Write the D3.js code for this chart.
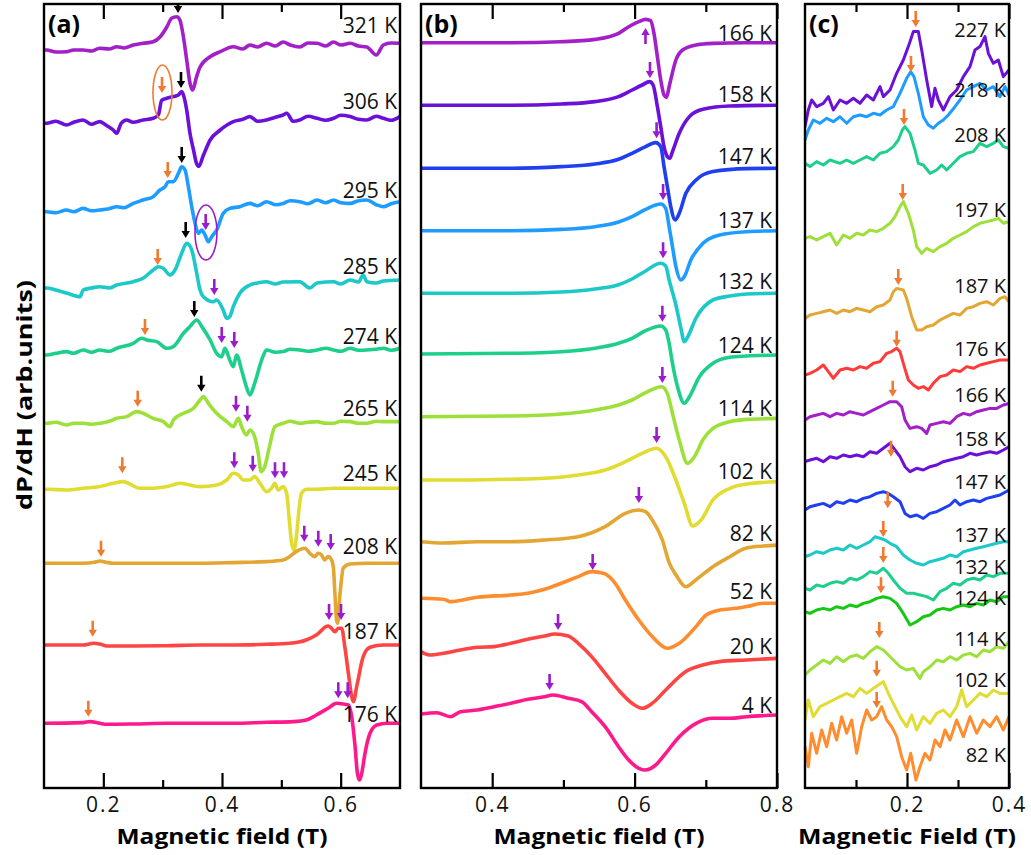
<!DOCTYPE html>
<html><head><meta charset="utf-8">
<script src="https://cdn.jsdelivr.net/npm/d3@7"></script>
<style>body{margin:0;background:#fff}</style></head>
<body><svg id="c" width="1031" height="855"></svg>
<script>
// ---------------- DATA (field in T, signal in arb. units relative to each trace baseline) ----------------
const aTemps = ["321 K","306 K","295 K","285 K","274 K","265 K","245 K","208 K","187 K","176 K"];
const aOffsets = [738,664.7,576.3,500,434.7,364.7,298.7,224.7,143,64.7];
const aLabelY = [763,686.3,598,521.3,451.3,379.7,314.7,241.3,156.3,74];
const aMajor = [0.2,0.4,0.6], aMinor = [0.3,0.5], aTickLabels = ["0.2","0.4","0.6"];

const a321 = [[0.100,0],[0.1045,0],[0.12,-2],[0.138,-1.7],[0.15,0],[0.166,0],[0.18,-1],[0.194,1.7],[0.21,1],[0.2225,3.3],[0.235,2],[0.2505,5],[0.267,6.7],[0.284,8.3],[0.2955,13],[0.307,23],[0.315,31.7],[0.3237,33.3],[0.329,30],[0.335,13],[0.3405,-10],[0.346,-33],[0.3506,-40],[0.357,-27],[0.363,-17],[0.38,-6.7],[0.397,-1.7],[0.419,3.3],[0.435,1],[0.447,5],[0.46,3],[0.475,6.7],[0.49,4],[0.503,8],[0.515,5],[0.531,3],[0.545,7],[0.56,6.7],[0.575,4],[0.588,8],[0.60,5],[0.616,6.7],[0.63,4],[0.644,3],[0.66,-5],[0.672,5],[0.685,7],[0.70,6.7]];
const a306 = [[0.100,0],[0.1045,0],[0.12,2],[0.138,-1.7],[0.15,1],[0.166,3.3],[0.18,-1],[0.194,1.7],[0.205,-2],[0.2168,-6.7],[0.2225,-10],[0.23,0],[0.2393,3.3],[0.25,1],[0.267,3.3],[0.284,5],[0.2927,8.3],[0.2983,23],[0.307,25],[0.318,26.7],[0.3265,28.3],[0.332,31.7],[0.335,28.3],[0.3405,13.3],[0.346,-10],[0.352,-26.7],[0.357,-40],[0.361,-43],[0.368,-33],[0.38,-16.7],[0.397,-6.7],[0.419,1.7],[0.435,4],[0.447,6.7],[0.46,2],[0.475,3.3],[0.49,6],[0.503,8.3],[0.509,10],[0.52,2],[0.531,3.3],[0.545,7],[0.56,5],[0.575,3],[0.588,5],[0.60,8],[0.616,6.7],[0.63,4],[0.644,3.3],[0.66,7],[0.672,5],[0.685,3],[0.70,6.7]];
const a295 = [[0.100,0],[0.1045,0],[0.12,-1],[0.138,1.7],[0.15,0],[0.166,3.3],[0.18,1],[0.194,1.7],[0.21,3],[0.2225,5],[0.235,4],[0.2505,8.3],[0.267,11.7],[0.284,15],[0.2955,21.7],[0.304,25],[0.3095,30],[0.318,30],[0.3265,38.3],[0.332,45],[0.3377,41.7],[0.3433,25],[0.349,5],[0.3546,-11.7],[0.3602,-21.7],[0.366,-18.3],[0.3714,-23.3],[0.377,-30],[0.3826,-25],[0.391,-18.3],[0.402,-1.7],[0.413,3.3],[0.43,5],[0.447,8.3],[0.46,6],[0.475,10],[0.49,7],[0.503,8.3],[0.515,11],[0.531,10],[0.545,8],[0.56,11.7],[0.575,9],[0.588,11.7],[0.60,9],[0.616,8.3],[0.63,11],[0.644,11.7],[0.66,7],[0.672,5],[0.685,8],[0.70,10]];
const a285 = [[0.100,0],[0.1045,0],[0.12,-2],[0.138,-5],[0.1607,-8.7],[0.166,-2],[0.18,0],[0.194,1.3],[0.21,0],[0.2225,3],[0.2505,6.3],[0.267,9.7],[0.284,18],[0.2927,21.3],[0.301,19.7],[0.3124,13],[0.3208,18],[0.332,34.7],[0.3405,44.7],[0.349,38],[0.3574,14.7],[0.363,-2],[0.3686,-8.7],[0.3855,-13.7],[0.391,-12],[0.402,-22],[0.408,-30.3],[0.413,-28.7],[0.419,-18.7],[0.43,-5.3],[0.447,3],[0.46,5],[0.475,6.3],[0.49,4],[0.503,6],[0.531,6.3],[0.548,0],[0.56,5],[0.588,6.3],[0.60,4],[0.616,8],[0.63,6],[0.638,13],[0.644,6.3],[0.66,5],[0.672,7],[0.70,8]];
const a274 = [[0.100,-1.7],[0.1045,-1.7],[0.12,0],[0.138,1.7],[0.15,0],[0.166,3.3],[0.18,1],[0.194,3.3],[0.21,2],[0.2225,5],[0.2505,10],[0.2646,15],[0.273,13.3],[0.29,11.7],[0.307,5],[0.318,6.7],[0.335,20],[0.346,26.7],[0.3574,33.3],[0.366,26.7],[0.38,13.3],[0.391,0],[0.3995,-3.3],[0.405,5],[0.413,-6.7],[0.419,-13.3],[0.4245,-1.7],[0.433,-16.7],[0.441,-33.3],[0.447,-41.7],[0.455,-30],[0.469,-3.3],[0.475,3.3],[0.49,1],[0.503,1.7],[0.515,4],[0.531,3.3],[0.545,2],[0.56,3.3],[0.575,5],[0.588,3.3],[0.60,2],[0.616,5],[0.63,3],[0.644,3.3],[0.66,4],[0.672,5],[0.685,3],[0.70,5]];
const a265 = [[0.100,0],[0.1045,0],[0.12,1],[0.138,-1.7],[0.15,0],[0.166,0],[0.18,-1],[0.194,0],[0.21,2],[0.2225,5],[0.2393,6.7],[0.2562,11.7],[0.267,10],[0.284,5],[0.301,1.7],[0.3124,-3.3],[0.318,3.3],[0.335,10],[0.352,15],[0.363,23.3],[0.3686,26.7],[0.377,20],[0.391,10],[0.408,1.7],[0.419,-3.3],[0.4276,5],[0.433,-3.3],[0.441,-11.7],[0.447,-6.7],[0.455,-13.3],[0.461,-30],[0.466,-48.3],[0.472,-43.3],[0.48,-23.3],[0.489,-3.3],[0.503,0],[0.515,2],[0.531,0],[0.545,1],[0.56,1.7],[0.575,0],[0.588,0],[0.60,2],[0.616,1.7],[0.63,0],[0.644,0],[0.66,2],[0.672,1.7],[0.70,1.7]];
const a245 = [[0.100,0],[0.1045,0],[0.138,-0.7],[0.166,1],[0.194,2.7],[0.2168,6],[0.2337,7.7],[0.242,6],[0.2618,1],[0.284,1],[0.307,2.7],[0.329,6],[0.346,4.3],[0.363,2.7],[0.391,4.3],[0.408,9.3],[0.419,16],[0.4277,14.3],[0.436,9.3],[0.447,9.3],[0.455,12.7],[0.464,6],[0.475,-2.3],[0.4835,1],[0.489,6],[0.4948,-0.7],[0.503,2.7],[0.509,-4],[0.5134,-30.7],[0.5174,-54],[0.5214,-60.7],[0.526,-44],[0.5303,-17.3],[0.534,-4],[0.5428,0],[0.56,0],[0.588,1],[0.616,1],[0.644,1],[0.672,1],[0.70,1]];
const a208 = [[0.100,0],[0.1045,0],[0.166,0],[0.185,1],[0.194,2.3],[0.205,1],[0.2168,0],[0.2505,0],[0.307,0],[0.363,0],[0.419,0.7],[0.475,1.7],[0.503,3.3],[0.514,6.7],[0.525,11.7],[0.5399,15],[0.548,10],[0.5564,6.7],[0.562,10],[0.5677,8.3],[0.573,3.3],[0.579,6.7],[0.5846,3.3],[0.5876,-3.3],[0.5903,-30],[0.593,-56.7],[0.5948,-60],[0.599,-30],[0.6045,-4.7],[0.6158,-0.7],[0.644,0],[0.70,0]];
const a187 = [[0.100,0],[0.1045,0],[0.166,0],[0.1831,1.7],[0.194,1],[0.2057,-1],[0.2505,-1],[0.307,-0.7],[0.363,0],[0.419,0],[0.475,0.7],[0.514,1.7],[0.542,5],[0.559,10],[0.5787,19],[0.5846,16.7],[0.5903,13.3],[0.596,16.7],[0.6016,16.7],[0.607,-1.7],[0.613,-28.3],[0.6186,-51.7],[0.6214,-56.7],[0.627,-41.7],[0.638,-11.7],[0.6495,-2.3],[0.672,0],[0.70,0]];
const a176 = [[0.100,0],[0.1045,0],[0.166,0.7],[0.1775,1.7],[0.194,0],[0.2057,-1],[0.2505,-0.7],[0.307,0],[0.363,0],[0.419,0],[0.475,1],[0.5202,1.7],[0.542,3.3],[0.559,8.3],[0.5787,15],[0.5931,20],[0.6045,19.3],[0.613,18.3],[0.6186,6.7],[0.6243,-23.3],[0.6282,-50],[0.6316,-56.7],[0.6355,-50],[0.641,-30],[0.6495,-10],[0.661,-1.7],[0.678,0],[0.70,0]];
const aCurves = [a321,a306,a295,a285,a274,a265,a245,a208,a187,a176];
// arrows: [field, tip level, kind, direction(1 down,-1 up)]
const aArrows = [[0.3259,775,"k",1],[0.2989,695,"o",1],[0.3309,700,"k",1],[0.3085,610,"o",1],[0.3321,625,"k",1],[0.3725,558,"p",1],
 [0.2916,523,"o",1],[0.3388,550,"k",1],[0.387,493,"p",1],[0.2702,453,"o",1],[0.3533,471,"k",1],[0.3995,445,"p",1],[0.4207,440,"p",1],
 [0.2579,381.3,"o",1],[0.3651,396.3,"k",1],[0.4236,376.3,"p",1],[0.4427,366.3,"p",1],[0.232,314.7,"o",1],[0.4207,319.7,"p",1],[0.4518,316.3,"p",1],[0.4893,309.7,"p",1],[0.5045,309.7,"p",1],
 [0.1961,231.3,"o",1],[0.5387,246.3,"p",1],[0.5623,241.3,"p",1],[0.5832,238,"p",1],[0.1821,151.3,"o",1],[0.5804,168,"p",1],[0.6006,168,"p",1],
 [0.1747,71.3,"o",1],[0.596,89.7,"p",1],[0.6119,89.7,"p",1]];
// ellipses: [field centre, level centre, half-width (T), half-height, kind]
const aEllipses = [[0.2997,695.5,0.016,27.5,"o"],[0.373,555.5,0.0185,27.5,"p"]];

const bTemps = ["166 K","158 K","147 K","137 K","132 K","124 K","114 K","102 K","82 K","52 K","20 K","4 K"];
const bOffsets = [745.3,682.7,619.7,557.3,494.7,434,371.3,308,246.3,189.7,134.7,74];
const bLabelY = [754.7,693.7,631.3,568,506.3,443,379.7,316.3,254.7,196.3,142,83];
const bMajor = [0.4,0.6,0.8], bMinor = [0.5,0.7], bTickLabels = ["0.4","0.6","0.8"];
const b166 = [[0.3,0],[0.4262,0],[0.497,1],[0.5444,3.3],[0.5775,9.3],[0.5917,16],[0.606,21],[0.6154,23.3],[0.6225,22],[0.6272,9.3],[0.632,-14],[0.6367,-37.3],[0.6413,-52.3],[0.6447,-54.7],[0.6485,-44],[0.658,-17.3],[0.6674,-7.3],[0.6863,-2.3],[0.71,-0.7],[0.7572,0],[0.802,0]];
const b158 = [[0.3,0],[0.4262,0],[0.497,1.3],[0.5444,3.7],[0.5775,8.7],[0.5964,15.3],[0.6107,20.3],[0.621,23.7],[0.626,20.3],[0.632,-1.3],[0.6367,-21.3],[0.6413,-41.3],[0.646,-51.3],[0.6495,-53],[0.6532,-46.3],[0.6627,-28],[0.677,-11.3],[0.6958,-4],[0.7336,-0.7],[0.802,0]];
const b147 = [[0.3,0],[0.4262,0],[0.497,1.7],[0.5444,4.3],[0.5775,9],[0.5964,15],[0.6154,21.7],[0.6296,25.7],[0.6367,21.7],[0.6413,1.7],[0.646,-18.3],[0.6508,-38.3],[0.657,-51.7],[0.6627,-45],[0.672,-25],[0.6863,-11.7],[0.71,-3.3],[0.7572,-0.3],[0.802,0]];
const b137 = [[0.3,0],[0.4262,0],[0.497,1.3],[0.5444,4],[0.5775,8.7],[0.5964,14],[0.6154,21.3],[0.6367,26.7],[0.6437,22.3],[0.6485,4],[0.6532,-16],[0.658,-36],[0.665,-49.3],[0.6698,-46],[0.679,-29.3],[0.6958,-12.7],[0.7194,-4.3],[0.7572,-1],[0.802,0]];
const b132 = [[0.3,0],[0.4262,0],[0.497,1.3],[0.5444,4.3],[0.5775,8.6],[0.5964,14.3],[0.6154,22.3],[0.6367,30],[0.6437,27.3],[0.6485,13.3],[0.658,-11.7],[0.665,-34.7],[0.6698,-48.4],[0.6745,-43.7],[0.6863,-24.7],[0.71,-6.7],[0.7336,-2.7],[0.7572,-0.7],[0.802,0]];
const b124 = [[0.3,0],[0.4262,0.7],[0.497,2.3],[0.5444,5.7],[0.5775,10.7],[0.5964,15.7],[0.6154,23.3],[0.6367,28],[0.6437,24],[0.6485,10.7],[0.6532,-9.3],[0.6603,-32.7],[0.6698,-49.3],[0.677,-42.7],[0.691,-22.7],[0.71,-9.3],[0.7336,-3.3],[0.7572,-2],[0.802,-1]];
const b114 = [[0.3,0],[0.4262,0.7],[0.497,2.7],[0.5444,6.7],[0.5775,11.7],[0.5964,16.7],[0.6154,24],[0.6381,30],[0.646,23.3],[0.6532,3.3],[0.6627,-23.3],[0.6745,-46.7],[0.684,-40],[0.6958,-23.3],[0.71,-11.7],[0.7336,-5],[0.7572,-2.7],[0.802,-1.7]];
const b102 = [[0.3,0],[0.3553,0],[0.4262,0.7],[0.4735,1.7],[0.5208,5],[0.5586,10],[0.587,18.3],[0.6107,26.7],[0.6305,31.7],[0.6437,23.3],[0.658,0],[0.6698,-23.3],[0.6816,-46],[0.6934,-40],[0.71,-20],[0.7336,-8.3],[0.7572,-4],[0.802,-1.7]];
const b82 = [[0.3,0],[0.3317,-1.3],[0.379,0],[0.4262,0],[0.4735,1.7],[0.5208,5],[0.5586,15],[0.587,28.4],[0.606,31.7],[0.6154,30],[0.6248,21.7],[0.639,1.7],[0.6485,-21],[0.658,-33],[0.672,-45],[0.6863,-38],[0.71,-25],[0.7336,-15],[0.7572,-6.3],[0.781,-4.3],[0.802,-3.3]];
const b52 = [[0.3,0],[0.3317,-1],[0.3411,-3.3],[0.379,1],[0.4262,3.3],[0.45,5],[0.4735,9],[0.497,15],[0.5208,21.7],[0.5397,26.7],[0.5562,25],[0.5728,15],[0.587,-1.7],[0.6059,-21.7],[0.6248,-38.3],[0.646,-50],[0.6627,-45],[0.6863,-28.3],[0.7005,-16.7],[0.7194,-11.7],[0.743,-10],[0.7572,-8.3],[0.781,-5],[0.802,-5]];
const b20 = [[0.3,1.7],[0.3128,-1.7],[0.3317,0],[0.3553,3.3],[0.379,6],[0.4026,6.7],[0.4262,10],[0.45,14],[0.4735,17.3],[0.4877,19.3],[0.5066,17.3],[0.5208,10],[0.5397,-3.3],[0.5586,-20],[0.5775,-36.7],[0.5964,-50],[0.6107,-55],[0.6248,-50],[0.6437,-36.7],[0.672,-18.3],[0.6958,-11.7],[0.7194,-8.3],[0.7572,-6.7],[0.802,-5]];
const b4 = [[0.3,0],[0.3222,1.3],[0.3411,-2.7],[0.3553,2.3],[0.379,4],[0.4026,7.3],[0.4262,10.7],[0.45,14.7],[0.4735,17.3],[0.4853,19],[0.5066,15.7],[0.5255,12.3],[0.5397,2.3],[0.5586,-12.7],[0.5775,-32.7],[0.5917,-46],[0.606,-54.3],[0.6154,-56],[0.6296,-51],[0.6437,-39.3],[0.6627,-22.7],[0.6863,-9.3],[0.71,-4.3],[0.7336,-4.3],[0.7572,-2.7],[0.802,-1]];
const bCurves = [b166,b158,b147,b137,b132,b124,b114,b102,b82,b52,b20,b4];
const bArrows = [[0.6153,760,"p",-1],[0.6216,710,"p",1],[0.6309,649.7,"p",1],[0.64,588,"p",1],[0.64,529.7,"p",1],[0.639,466.3,"p",1],
 [0.639,405,"p",1],[0.6309,345,"p",1],[0.606,285,"p",1],[0.5411,218,"p",1],[0.4925,158,"p",1],[0.4806,98,"p",1]];

const cTemps = ["227 K","218 K","208 K","197 K","187 K","176 K","166 K","158 K","147 K","137 K","132 K","124 K","114 K","102 K","82 K"];
const cOffsets = [684.7,668,624.7,549.7,471.3,414.7,371.3,328,281.3,233,199.7,176.3,121.3,71.3,48];
const cLabelY = [758,698,653,578,502,439.7,393,349.7,306.3,253,221,190,149.7,108,33];
const cMajor = [0.2,0.4], cMinor = [0.1,0.3], cTickLabels = ["0.2","0.4"];
const c227 = [[0,-23.3],[0.0065,-6.7],[0.0131,3.3],[0.0229,-3.3],[0.0359,0],[0.0458,6.7],[0.0556,-6.7],[0.0686,3.3],[0.0817,0],[0.0948,5],[0.1078,0],[0.1209,8.3],[0.134,3.3],[0.1471,16.7],[0.1536,6.7],[0.1667,13.3],[0.1797,30],[0.1928,43.3],[0.2026,56.7],[0.2124,71.7],[0.2222,71.7],[0.2288,53.3],[0.2386,23.3],[0.2484,-3.3],[0.2549,15],[0.2614,3.3],[0.2712,-6.7],[0.2843,6.7],[0.2974,13.3],[0.3105,26.7],[0.3235,36.7],[0.3333,53.3],[0.3431,56.7],[0.3529,66.7],[0.3595,50],[0.3693,40],[0.3791,43.3],[0.3889,26.7],[0.4,33.3]];
const c218 = [[0,-20],[0.0065,-10],[0.0163,0],[0.0294,-3.3],[0.0425,1.7],[0.0556,-1.7],[0.0686,3.3],[0.0817,-3.3],[0.0948,3.3],[0.1078,5],[0.1209,3.3],[0.134,6.7],[0.1471,5],[0.1601,10],[0.1732,13.3],[0.1863,26.7],[0.1993,41.7],[0.2072,48.3],[0.2137,43.3],[0.2222,26.7],[0.232,3.3],[0.2418,-5],[0.2516,-8.3],[0.2614,-3.3],[0.2712,0],[0.281,5],[0.2941,13.3],[0.3039,20],[0.317,30],[0.3301,33.3],[0.3431,36.7],[0.3562,30],[0.3693,33.3],[0.3824,23.3],[0.3922,33.3],[0.4,25]];
const c208 = [[0,0],[0.0098,-3.3],[0.0229,1.7],[0.0359,-1.7],[0.049,3.3],[0.0686,0],[0.0817,3.3],[0.0948,0],[0.1078,3.3],[0.1209,6.7],[0.134,3.3],[0.1471,10],[0.1601,11.7],[0.1732,16.7],[0.183,23.3],[0.1908,33.3],[0.1961,36.7],[0.2059,30],[0.2157,13.3],[0.2222,0],[0.232,-1.7],[0.2451,-10],[0.2582,-6.7],[0.268,-1.7],[0.2778,-6.7],[0.2908,0],[0.3039,6.7],[0.317,10],[0.3301,11.7],[0.3431,20],[0.3562,16.7],[0.3693,20],[0.3791,23.3],[0.3889,16.7],[0.4,15]];
const c197 = [[0,0],[0.0098,1.7],[0.0229,-1.7],[0.0359,1.7],[0.049,5],[0.0621,-6.7],[0.0752,3.3],[0.0882,0],[0.1013,5],[0.1144,3.3],[0.1275,8.3],[0.1405,6.7],[0.1536,10],[0.1667,15],[0.1765,21.7],[0.1863,31.7],[0.1928,36.7],[0.2026,25],[0.2124,8.3],[0.219,-8.3],[0.2288,-15],[0.2386,-10],[0.2516,-13.3],[0.2647,-8.3],[0.2778,-5],[0.2908,0],[0.3039,3.3],[0.317,6.7],[0.3301,11.7],[0.3431,15],[0.3562,16.7],[0.3693,18.3],[0.3791,20],[0.3889,15],[0.4,16.7]];
const c187 = [[0,-1.7],[0.0098,1.7],[0.0229,3.3],[0.0359,5],[0.049,6.7],[0.0621,3.3],[0.0752,6.7],[0.0882,5],[0.1013,8.3],[0.1144,6.7],[0.1275,5],[0.1405,10],[0.1536,11.7],[0.1667,16.7],[0.1732,25],[0.1797,28.3],[0.1928,26.7],[0.1993,18.3],[0.2092,0],[0.219,-13.3],[0.2288,-13.3],[0.2386,-10],[0.2516,-8.3],[0.2647,-3.3],[0.2778,0],[0.2908,3.3],[0.3039,1.7],[0.317,8.3],[0.3301,10],[0.3431,13.3],[0.3562,15],[0.3693,11.7],[0.3824,18.3],[0.3922,20],[0.4,15]];
const c176 = [[0,-1.7],[0.0098,0],[0.0229,3.3],[0.0359,8.3],[0.0458,1.7],[0.0556,-5],[0.0686,3.3],[0.0817,5],[0.0948,3.3],[0.1078,6.7],[0.1209,5],[0.134,10],[0.1471,11.7],[0.1601,20],[0.1699,21.7],[0.1797,25],[0.1863,21.7],[0.1928,10],[0.2026,-6.7],[0.2124,-11.7],[0.2222,-15],[0.232,-13.3],[0.2418,-16.7],[0.2516,-10],[0.2647,-3.3],[0.2778,-1.7],[0.2908,3.3],[0.3039,1.7],[0.317,6.7],[0.3301,5],[0.3431,8.3],[0.3562,10],[0.3693,11.7],[0.3824,13.3],[0.4,13.3]];
const c166 = [[0,-3.3],[0.0098,0],[0.0229,1.7],[0.0359,3.3],[0.049,0],[0.0621,3.3],[0.0752,1.7],[0.0882,5],[0.1013,3.3],[0.1144,1.7],[0.1275,5],[0.1405,8.3],[0.1536,11.7],[0.1667,15],[0.1797,15],[0.1895,10],[0.1961,-3.3],[0.2059,-11.7],[0.219,-10],[0.2288,-11.7],[0.2386,-16.7],[0.2451,-8.3],[0.2582,-6.7],[0.2712,-5],[0.2843,-6.7],[0.2974,0],[0.3105,3.3],[0.3235,1.7],[0.3366,5],[0.3497,6.7],[0.3627,8.3],[0.3758,8.3],[0.3889,11.7],[0.4,13.3]];
const c158 = [[0,-1.7],[0.0098,0],[0.0229,1.7],[0.0359,-1.7],[0.049,3.3],[0.0621,1.7],[0.0752,5],[0.0882,3.3],[0.1013,5],[0.1144,3.3],[0.1275,8.3],[0.1405,6.7],[0.1536,11.7],[0.1667,16.7],[0.1765,10],[0.1863,3.3],[0.1961,-6.7],[0.2059,-11.7],[0.219,-8.3],[0.232,-10],[0.2451,-6.7],[0.2582,-5],[0.2712,-1.7],[0.2843,0],[0.2974,1.7],[0.3105,3.3],[0.3235,6.7],[0.3366,5],[0.3497,6.7],[0.3627,8.3],[0.3758,6.7],[0.3889,10],[0.4,13.3]];
const c147 = [[0,-3.3],[0.0098,0],[0.0229,1.7],[0.0359,3.3],[0.049,0],[0.0621,5],[0.0752,3.3],[0.0882,6.7],[0.1013,5],[0.1144,8.3],[0.1275,10],[0.1405,13.3],[0.1536,15],[0.1634,13.3],[0.1732,10],[0.1863,5],[0.1961,-6.7],[0.2059,-10],[0.219,-8.3],[0.232,-11.7],[0.2451,-6.7],[0.2582,-5],[0.2712,-1.7],[0.2843,1.7],[0.2941,6.7],[0.3039,1.7],[0.317,5],[0.3301,6.7],[0.3431,5],[0.3562,8.3],[0.3693,10],[0.3824,11.7],[0.4,16.7]];
const c137 = [[0,-1.7],[0.0098,0],[0.0229,3.3],[0.0359,1.7],[0.049,5],[0.0621,6.7],[0.0752,5],[0.0882,10],[0.1013,6.7],[0.1144,10],[0.1275,13.3],[0.1373,18.3],[0.1471,16.7],[0.1569,15],[0.1667,11.7],[0.1797,8.3],[0.1928,0],[0.2059,-5],[0.219,-8.3],[0.232,-10],[0.2451,-6.7],[0.2582,-5],[0.2712,-3.3],[0.2843,0],[0.2974,-1.7],[0.3105,3.3],[0.3235,5],[0.3366,6.7],[0.3497,8.3],[0.3627,10],[0.3758,11.7],[0.3889,13.3],[0.4,13.3]];
const c132 = [[0,0],[0.0098,-1.7],[0.0229,3.3],[0.0359,1.7],[0.049,5],[0.0621,6.7],[0.0752,5],[0.0882,10],[0.1013,8.3],[0.1144,11.7],[0.1275,16.7],[0.1405,15],[0.1536,20],[0.1634,15],[0.1732,8.3],[0.1863,0],[0.1993,-5],[0.2124,-5],[0.2255,-6.7],[0.2386,-8.3],[0.2516,-11.7],[0.2647,-3.3],[0.2778,0],[0.2908,5],[0.3039,3.3],[0.317,8.3],[0.3301,10],[0.3431,8.3],[0.3562,13.3],[0.3693,11.7],[0.3824,15],[0.4,15]];
const c124 = [[0,0],[0.0098,-1.7],[0.0229,1.7],[0.0359,3.3],[0.049,1.7],[0.0621,5],[0.0752,3.3],[0.0882,6.7],[0.1013,5],[0.1144,8.3],[0.1275,10],[0.1405,13.3],[0.1536,15],[0.1667,13.3],[0.1797,8.3],[0.1928,-1.7],[0.2059,-13.3],[0.219,-10],[0.232,-5],[0.2451,-3.3],[0.2582,1.7],[0.2712,3.3],[0.2843,1.7],[0.2974,5],[0.3105,6.7],[0.3235,5],[0.3366,8.3],[0.3497,6.7],[0.3627,11.7],[0.3758,10],[0.3889,15],[0.4,15]];
const c114 = [[0,-8.3],[0.0098,-3.3],[0.0229,1.7],[0.0359,6.7],[0.049,3.3],[0.0621,10],[0.0752,5],[0.0882,10],[0.1013,11.7],[0.1144,8.3],[0.1275,15],[0.1405,20],[0.1536,16.7],[0.1634,11.7],[0.1732,6.7],[0.1863,0],[0.1993,-3.3],[0.2124,-1.7],[0.2255,-11.7],[0.232,-5],[0.2451,0],[0.2582,6.7],[0.2712,5],[0.2843,10],[0.2974,6.7],[0.3105,11.7],[0.3235,13.3],[0.3366,10],[0.3497,16.7],[0.3627,15],[0.3758,20],[0.3889,18.3],[0.4,25]];
const c102 = [[0,-3.3],[0.0065,16.7],[0.0163,0],[0.0294,10],[0.0425,13.3],[0.0556,16.7],[0.0686,20],[0.0817,23.3],[0.0948,20],[0.1078,28.3],[0.1209,23.3],[0.134,28.3],[0.1438,31.7],[0.1536,35],[0.1634,23.3],[0.1732,13.3],[0.1863,0],[0.1993,-10],[0.2092,1.7],[0.219,-13.3],[0.232,0],[0.2451,-6.7],[0.2582,3.3],[0.2712,6.7],[0.2843,0],[0.2974,10],[0.3072,26.7],[0.317,10],[0.3301,16.7],[0.3431,23.3],[0.3562,20],[0.3693,26.7],[0.3824,23.3],[0.4,23.3]];
const c82 = [[0,-6.7],[0.0065,-26.7],[0.0131,6.7],[0.0229,-13.3],[0.0327,10],[0.0425,-6.7],[0.0523,16.7],[0.0621,0],[0.0719,23.3],[0.0817,6.7],[0.0915,20],[0.1013,-13.3],[0.1111,13.3],[0.1209,30],[0.1307,20],[0.1405,23.3],[0.1503,33.3],[0.1601,20],[0.1699,13.3],[0.1797,3.3],[0.1895,-16.7],[0.1993,-30],[0.2072,-13.3],[0.2176,-40],[0.2255,-26.7],[0.2353,-13.3],[0.2451,-20],[0.2549,0],[0.2647,-6.7],[0.2745,10],[0.2843,0],[0.2974,20],[0.3105,3.3],[0.3235,23.3],[0.3366,6.7],[0.3497,20],[0.3627,13.3],[0.3758,23.3],[0.3889,10],[0.4,23.3]];
const cCurves = [c227,c218,c208,c197,c187,c176,c166,c158,c147,c137,c132,c124,c114,c102,c82];
const cArrows = [[0.2171,761,"o",1],[0.2078,716,"o",1],[0.1941,663,"o",1],[0.1916,588,"o",1],[0.1829,503,"o",1],[0.1798,441.3,"o",1],[0.172,391.3,"o",1],
 [0.1686,331.3,"o",1],[0.1622,279.7,"o",1],[0.1535,251,"o",1],[0.1535,225,"o",1],[0.149,194.7,"o",1],[0.1457,150,"o",1],[0.1406,111.3,"o",1],[0.1406,80,"o",1]];

// ---------------- STYLE / LAYOUT ----------------
const PURPLE="#a31fc7", VIOLET="#6a10d8", SKY="#1e9cff", BLUE="#2040f0", CYAN="#1cc8c8", TEAL="#1ecf8c",
      LIME="#9ee03a", YELLOW="#e1dc32", GOLD="#e3a632", ORANGE="#ff8c2e", RED="#ff4444", PINK="#ff1a8c", GREEN="#14c814";
const aColors=[PURPLE,VIOLET,SKY,CYAN,TEAL,LIME,YELLOW,GOLD,RED,PINK];
const bColors=[PURPLE,VIOLET,BLUE,SKY,CYAN,TEAL,LIME,YELLOW,GOLD,ORANGE,RED,PINK];
const cColors=[VIOLET,SKY,TEAL,LIME,GOLD,"#ff3a3a",PURPLE,VIOLET,"#1f3ff0",CYAN,TEAL,GREEN,LIME,YELLOW,ORANGE];
const arrowColor={o:"#f07a30",p:"#9a1ccc",k:"#000"};
const FONT="'Open Sans', 'DejaVu Sans', sans-serif";
const TOP=4, BOTTOM=788;

const svg=d3.select("#c");
const yS=d3.scaleLinear().domain([0,784]).range([BOTTOM,TOP]);

const panels=[
 {id:"a",letter:"(a)",x0:44,x1:400,dom:[0.1,0.7],major:aMajor,minor:aMinor,tl:aTickLabels,title:"Magnetic field (T)",titleW:211,
  curves:aCurves,offsets:aOffsets,temps:aTemps,labelY:aLabelY,colors:aColors,arrows:aArrows,ell:aEllipses,lw:3.6,labelX:397,labelFs:21,curve:d3.curveMonotoneX},
 {id:"b",letter:"(b)",x0:421,x1:777,dom:[0.3,0.8],major:bMajor,minor:bMinor,tl:bTickLabels,title:"Magnetic field (T)",titleW:211,
  curves:bCurves,offsets:bOffsets,temps:bTemps,labelY:bLabelY,colors:bColors,arrows:bArrows,ell:[],lw:3.6,labelX:772,labelFs:21,curve:d3.curveMonotoneX},
 {id:"c",letter:"(c)",x0:805,x1:1009,dom:[0.0,0.4],major:cMajor,minor:cMinor,tl:cTickLabels,title:"Magnetic Field (T)",titleW:218,
  curves:cCurves,offsets:cOffsets,temps:cTemps,labelY:cLabelY,colors:cColors,arrows:cArrows,ell:[],lw:3,labelX:1006,labelFs:20,curve:d3.curveLinear}
];

function arrowPath(x,yTip,dir){
  const L=16,hl=7,hw=4.2,sw=1.3;
  const by=yTip-dir*L, hy=yTip-dir*hl;
  return `M${x-sw},${by}L${x+sw},${by}L${x+sw},${hy}L${x+hw},${hy}L${x},${yTip}L${x-hw},${hy}L${x-sw},${hy}Z`;
}

panels.forEach(p=>{
  const x=d3.scaleLinear().domain(p.dom).range([p.x0,p.x1]);
  const g=svg.append("g");
  svg.append("clipPath").attr("id","clip-"+p.id).append("rect")
     .attr("x",p.x0).attr("y",TOP).attr("width",p.x1-p.x0).attr("height",BOTTOM-TOP);
  const inner=g.append("g").attr("clip-path",`url(#clip-${p.id})`);
  p.curves.forEach((c,i)=>{
    const line=d3.line().x(d=>x(d[0])).y(d=>yS(p.offsets[i]+d[1])).curve(p.curve);
    inner.append("path").attr("d",line(c)).attr("fill","none").attr("stroke",p.colors[i])
      .attr("stroke-width",p.lw).attr("stroke-linejoin","round").attr("stroke-linecap","round");
  });
  p.arrows.forEach(a=>{
    inner.append("path").attr("d",arrowPath(x(a[0]),yS(a[1]),a[3])).attr("fill",arrowColor[a[2]]);
  });
  p.ell.forEach(e=>{
    inner.append("ellipse").attr("cx",x(e[0])).attr("cy",yS(e[1]))
      .attr("rx",x(e[0]+e[2])-x(e[0])).attr("ry",yS(0)-yS(e[3]))
      .attr("fill","none").attr("stroke",arrowColor[e[4]]).attr("stroke-width",1.6);
  });
  p.temps.forEach((t,i)=>{
    g.append("text").attr("x",p.labelX).attr("y",yS(p.labelY[i])).attr("dy","0.36em")
     .attr("text-anchor","end").attr("font-family",FONT).attr("font-size",p.labelFs).attr("fill","#111").text(t);
  });
  const fmt=d=>p.tl[p.major.indexOf(d)];
  const bot=g.append("g").attr("transform",`translate(0,${BOTTOM})`)
     .call(d3.axisBottom(x).tickValues(p.major).tickSize(-15).tickPadding(9).tickFormat(fmt));
  const botMin=g.append("g").attr("transform",`translate(0,${BOTTOM})`)
     .call(d3.axisBottom(x).tickValues(p.minor).tickSize(-8).tickFormat(""));
  const top=g.append("g").attr("transform",`translate(0,${TOP})`)
     .call(d3.axisTop(x).tickValues(p.major).tickSize(-15).tickFormat(""));
  const topMin=g.append("g").attr("transform",`translate(0,${TOP})`)
     .call(d3.axisTop(x).tickValues(p.minor).tickSize(-8).tickFormat(""));
  [bot,botMin,top,topMin].forEach(ax=>{
    ax.select(".domain").remove();
    ax.selectAll(".tick line").attr("stroke","#000").attr("stroke-width",2.2);
  });
  bot.selectAll(".tick text").attr("font-family",FONT).attr("font-size",21).attr("letter-spacing","2px").attr("fill","#111");
  g.append("rect").attr("x",p.x0).attr("y",TOP).attr("width",p.x1-p.x0).attr("height",BOTTOM-TOP)
   .attr("fill","none").attr("stroke","#000").attr("stroke-width",2.4);
  g.append("text").attr("x",p.x0+4).attr("y",TOP+29).attr("font-family",FONT).attr("font-weight","bold")
   .attr("font-size",25).attr("fill","#000").text(p.letter);
  g.append("text").attr("x",(p.x0+p.x1)/2).attr("y",844).attr("text-anchor","middle").attr("font-family",FONT)
   .attr("font-weight","bold").attr("font-size",22).attr("textLength",p.titleW).attr("lengthAdjust","spacingAndGlyphs")
   .attr("fill","#000").text(p.title);
});

svg.append("text").attr("transform","translate(24,395) rotate(-90)").attr("text-anchor","middle")
  .attr("dy","0.35em").attr("font-family",FONT).attr("font-weight","bold").attr("font-size",22)
  .attr("textLength",230).attr("lengthAdjust","spacingAndGlyphs").attr("fill","#000")
  .text("dP/dH (arb.units)");
</script></body></html>
